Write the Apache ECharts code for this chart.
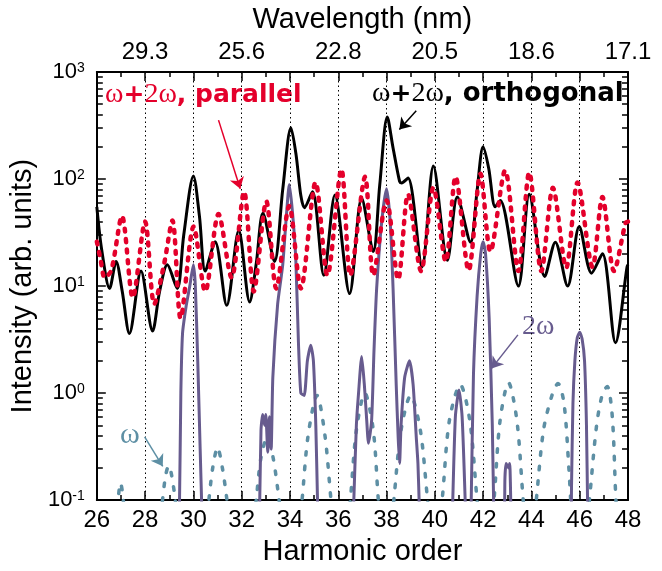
<!DOCTYPE html>
<html>
<head>
<meta charset="utf-8">
<title>Harmonic spectra</title>
<script src="https://cdn.jsdelivr.net/npm/echarts@6.0.0/dist/echarts.min.js"></script>
<style>
  html, body { margin: 0; padding: 0; background: #fff; }
  #chart { width: 662px; height: 571px; }
</style>
</head>
<body>
<div id="chart"></div>
<script>
var chartDom = document.getElementById('chart');
var myChart = echarts.init(chartDom);

const colors = {
  ortho: '#000000',
  parallel: '#e4002b',
  twoOmega: '#675b8e',
  omega: '#5d8fa4'
};

// [harmonic order, intensity]
const omega = [
  [26.0, 0.01], [26.75, 0.05], [26.88, 0.1], [26.98, 0.145], [27.08, 0.11], [27.2, 0.05], [27.8, 0.01],
  [28.55, 0.05], [28.72, 0.1], [28.85, 0.17], [28.98, 0.21], [29.1, 0.17], [29.25, 0.1], [29.4, 0.05], [29.9, 0.01],
  [30.5, 0.05], [30.64, 0.1], [30.8, 0.2], [31.0, 0.31], [31.2, 0.2], [31.39, 0.1], [31.55, 0.05], [32.0, 0.01],
  [32.45, 0.05], [32.6, 0.1], [32.8, 0.25], [33.05, 0.38], [33.3, 0.25], [33.55, 0.1], [33.7, 0.05], [34.0, 0.01],
  [34.35, 0.05], [34.5, 0.1], [34.75, 0.4], [35.12, 0.95], [35.45, 0.4], [35.7, 0.1], [35.85, 0.05], [36.1, 0.01],
  [36.35, 0.05], [36.5, 0.1], [36.75, 0.45], [37.1, 1.0], [37.45, 0.45], [37.66, 0.1], [37.8, 0.05], [38.0, 0.01],
  [38.15, 0.05], [38.3, 0.1], [38.6, 0.45], [39.0, 0.95], [39.4, 0.45], [39.7, 0.1], [39.85, 0.05], [40.0, 0.01],
  [40.1, 0.05], [40.3, 0.1], [40.6, 0.55], [41.05, 1.2], [41.45, 0.55], [41.75, 0.1], [41.9, 0.05], [42.1, 0.01],
  [42.3, 0.05], [42.45, 0.1], [42.7, 0.55], [43.05, 1.25], [43.4, 0.55], [43.66, 0.1], [43.8, 0.05], [43.95, 0.01],
  [44.05, 0.05], [44.2, 0.1], [44.5, 0.45], [44.85, 0.95], [45.1, 1.23], [45.35, 0.8], [45.55, 0.2], [45.65, 0.08], [45.9, 0.01],
  [46.25, 0.05], [46.4, 0.1], [46.7, 0.5], [46.95, 1.0], [47.14, 1.15], [47.35, 0.6], [47.5, 0.1], [47.6, 0.05], [48.0, 0.01]
];

const twoOmega = [
  [29.3, 0.01], [29.42, 0.08], [29.48, 1], [29.55, 3.6], [29.7, 6.5], [29.85, 10], [30.0, 15.8], [30.08, 10],
  [30.18, 2], [30.28, 0.3], [30.35, 0.08], [30.45, 0.01],
  [32.6, 0.01], [32.74, 0.08], [32.8, 0.45], [32.87, 0.63], [32.95, 0.5], [33.0, 0.63], [33.08, 0.28], [33.15, 0.6],
  [33.22, 0.3], [33.29, 1.4], [33.49, 6.8], [33.7, 15.8], [33.85, 45], [33.97, 89], [34.1, 50], [34.24, 18],
  [34.35, 3], [34.45, 1], [34.59, 0.95], [34.72, 2], [34.86, 2.8], [34.97, 2], [35.07, 0.5], [35.15, 0.08], [35.25, 0.01],
  [36.5, 0.01], [36.63, 0.08], [36.75, 0.5], [36.84, 1.0], [36.97, 2.2], [37.08, 1.2], [37.18, 0.55], [37.25, 0.34],
  [37.38, 0.55], [37.48, 2.5], [37.59, 9.5], [37.8, 40], [38.0, 81], [38.15, 40], [38.27, 9.5], [38.4, 1.2],
  [38.48, 0.39], [38.54, 0.22], [38.6, 0.5], [38.75, 1.4], [38.95, 2.0], [39.1, 1.2], [39.23, 0.39], [39.3, 0.22],
  [39.36, 0.08], [39.45, 0.01],
  [40.6, 0.01], [40.73, 0.08], [40.85, 0.6], [41.0, 1.07], [41.13, 0.6], [41.27, 0.08], [41.38, 0.01],
  [41.42, 0.01], [41.5, 0.08], [41.6, 1.5], [41.75, 8], [41.9, 20], [42.0, 26], [42.1, 20], [42.25, 5],
  [42.38, 0.5], [42.45, 0.06], [42.55, 0.01],
  [42.85, 0.01], [42.9, 0.15], [42.95, 0.22], [43.05, 0.2], [43.1, 0.22], [43.15, 0.08], [43.2, 0.01],
  [45.6, 0.01], [45.66, 0.13], [45.72, 0.8], [45.8, 2], [45.9, 3.3], [46.0, 3.7], [46.1, 3.2], [46.2, 2],
  [46.28, 0.5], [46.33, 0.08], [46.4, 0.01]
];

const orthogonal = [
  [26.0, 55], [26.2, 22], [26.53, 9.5], [26.8, 17], [27.05, 9], [27.35, 3.6], [27.83, 13.8], [28.31, 3.8],
  [28.6, 8.9], [28.92, 15.8], [29.33, 9.5], [29.6, 30], [30.0, 107], [30.25, 45], [30.49, 13.8], [30.9, 26],
  [31.38, 6.6], [31.88, 33], [32.33, 7.1], [32.6, 16], [32.88, 48], [33.36, 17], [33.7, 80], [34.04, 302],
  [34.25, 170], [34.45, 70], [34.6, 54], [34.93, 76], [35.4, 12.6], [35.86, 71], [36.47, 8.5], [36.97, 66],
  [37.45, 21], [37.72, 89], [38.03, 380], [38.27, 195], [38.54, 95], [38.62, 92], [38.89, 102], [39.47, 15.1],
  [39.94, 132], [40.52, 17.4], [40.93, 68], [41.48, 25.7], [41.75, 78], [42.0, 200], [42.23, 126], [42.5, 55],
  [42.71, 63], [43.46, 10], [43.91, 72], [44.55, 12.3], [44.99, 25.7], [45.5, 10], [45.98, 36], [46.49, 13.2],
  [46.94, 20], [47.48, 2.95], [47.96, 15.1], [48.0, 15.8]
];

const parallel = [
  [26.0, 26], [26.15, 18], [26.33, 12], [26.6, 14], [27.04, 45], [27.49, 7.8], [28.0, 40], [28.38, 6.8],
  [28.78, 15.8], [29.13, 41], [29.47, 5], [30.01, 36], [30.49, 8.9], [31.04, 47], [31.58, 12], [32.1, 76],
  [32.5, 8.9], [33.02, 62], [33.43, 9.5], [33.97, 56], [34.45, 9.5], [35.06, 93], [35.55, 12.6], [36.13, 123],
  [36.5, 12.6], [37.11, 105], [37.45, 12.6], [38.0, 63], [38.48, 11.5], [38.89, 72], [39.43, 13.8], [39.94, 83],
  [40.45, 17], [40.86, 105], [41.4, 14], [41.89, 112], [42.3, 21], [42.91, 120], [43.46, 13.8], [43.91, 115],
  [44.41, 13.8], [44.89, 83], [45.44, 14.8], [45.91, 93], [46.53, 15.1], [46.94, 68], [47.42, 13.8], [47.9, 39],
  [48.0, 40]
];

// top axis: wavelength (nm) = 820 / harmonic order
const wavelengthOrders = [28, 32, 36, 40, 44, 48];
const wavelengthLabels = ['29.3', '25.6', '22.8', '20.5', '18.6', '17.1'];

// minor log ticks (2..9 per decade), given as log10 values for a linear overlay axis
const minorLogTicks = [];
[-1, 0, 1, 2].forEach(function (d) {
  for (var k = 2; k <= 9; k++) minorLogTicks.push(d + Math.log10(k));
});

const sans = 'Liberation Sans, Arial, sans-serif';
const serif = 'Liberation Serif, Times New Roman, serif';
const frame = { show: true, onZero: false, lineStyle: { color: '#000', width: 2 } };
const tickStyle = { color: '#000', width: 1.5 };

function xAxisDef(pos) {
  return {
    type: 'value', position: pos, min: 26, max: 48, interval: 2,
    axisLine: frame,
    axisTick: { inside: true, length: 9, lineStyle: tickStyle },
    minorTick: { show: true, splitNumber: 2, length: 5, lineStyle: tickStyle },
    splitLine: { show: false }
  };
}

function majorY(pos, labels) {
  return {
    type: 'log', logBase: 10, min: 0.1, max: 1000, position: pos,
    axisLine: frame,
    axisTick: { inside: true, length: 9, lineStyle: tickStyle },
    axisLabel: labels ? {
      margin: 12, color: '#000', fontFamily: sans,
      formatter: function (v) {
        return '{b|10}{s|' + Math.round(Math.log10(v)) + '}';
      },
      rich: {
        b: { fontSize: 22, fontFamily: sans, color: '#000' },
        s: { fontSize: 14, fontFamily: sans, color: '#000', verticalAlign: 'top' }
      }
    } : { show: false },
    splitLine: { show: false }
  };
}

function minorY(pos) {
  return {
    type: 'value', min: -1, max: 3, position: pos,
    axisLine: { show: false, onZero: false },
    axisTick: { show: true, inside: true, length: 6, lineStyle: tickStyle, customValues: minorLogTicks },
    axisLabel: { show: false },
    splitLine: { show: false }
  };
}

function arrow(color, from, to) {
  return {
    silent: true, symbol: ['none', 'arrow'], symbolSize: 11, animation: false,
    label: { show: false },
    lineStyle: { color: color, width: 1.5, type: 'solid' },
    data: [[{ coord: from }, { coord: to }]]
  };
}

const bottomX = xAxisDef('bottom');
bottomX.axisLabel = { fontSize: 24, color: '#000', margin: 8, fontFamily: sans, showMinLabel: true, showMaxLabel: true };
bottomX.splitLine = { show: true, lineStyle: { color: '#000', width: 1, type: [1.5, 3] } };
bottomX.name = 'Harmonic order';
bottomX.nameLocation = 'middle';
bottomX.nameGap = 33;
bottomX.nameTextStyle = { fontSize: 29, color: '#000', fontFamily: sans };

const topX = xAxisDef('top');
topX.axisLabel = {
  fontSize: 24, color: '#000', margin: 8, fontFamily: sans, showMinLabel: true, showMaxLabel: true,
  formatter: function (v) {
    var i = wavelengthOrders.indexOf(v);
    return i < 0 ? '' : wavelengthLabels[i];
  }
};
topX.name = 'Wavelength (nm)';
topX.nameLocation = 'middle';
topX.nameGap = 38;
topX.nameTextStyle = { fontSize: 29, color: '#000', fontFamily: sans };

const leftY = majorY('left', true);
leftY.name = 'Intensity (arb. units)';
leftY.nameLocation = 'middle';
leftY.nameGap = 28;
leftY.nameTextStyle = { fontSize: 29, color: '#000', fontFamily: sans };

option = {
  animation: false,
  backgroundColor: '#fff',
  grid: { left: 92, top: 68, width: 536, height: 440 },
  xAxis: [bottomX, topX],
  yAxis: [leftY, minorY('left'), majorY('right', false), minorY('right')],
  series: [
    {
      name: 'ω', type: 'line', data: omega, symbol: 'none', smooth: 0.3, clip: true, z: 2,
      lineStyle: { color: colors.omega, width: 3.5, type: [3.5, 11], cap: 'round' },
      markLine: arrow(colors.omega, [27.98, 0.39], [28.73, 0.207])
    },
    {
      name: '2ω', type: 'line', data: twoOmega, symbol: 'none', smooth: 0.2, clip: true, z: 3,
      lineStyle: { color: colors.twoOmega, width: 3 },
      markLine: arrow(colors.twoOmega, [43.44, 3.5], [42.35, 1.7])
    },
    {
      name: 'ω+2ω, orthogonal', type: 'line', data: orthogonal, symbol: 'none', smooth: 0.3, clip: true, z: 4,
      lineStyle: { color: colors.ortho, width: 3 },
      markLine: arrow(colors.ortho, [39.23, 435], [38.53, 290])
    },
    {
      name: 'ω+2ω, parallel', type: 'line', data: parallel, symbol: 'none', smooth: 0.3, clip: true, z: 5,
      lineStyle: { color: colors.parallel, width: 4.5, type: [3, 7.5], cap: 'round' },
      markLine: arrow(colors.parallel, [31.04, 355], [31.94, 81])
    }
  ],
  graphic: [
    {
      type: 'text', x: 105, y: 95, silent: true,
      style: {
        text: '{w|ω}{p|+}{w|2ω}{t|, parallel}', verticalAlign: 'middle',
        rich: {
          w: { fontFamily: serif, fontSize: 28, fill: colors.parallel },
          p: { fontFamily: 'DejaVu Sans', fontWeight: 'bold', fontSize: 25, fill: colors.parallel },
          t: { fontFamily: 'DejaVu Sans', fontWeight: 'bold', fontSize: 25, fill: colors.parallel }
        }
      }
    },
    {
      type: 'text', x: 372, y: 94, silent: true,
      style: {
        text: '{w|ω}{p|+}{w|2ω}{t|, orthogonal}', verticalAlign: 'middle',
        rich: {
          w: { fontFamily: serif, fontSize: 28, fill: colors.ortho },
          p: { fontFamily: 'DejaVu Sans', fontWeight: 'bold', fontSize: 25, fill: colors.ortho },
          t: { fontFamily: 'DejaVu Sans', fontWeight: 'bold', fontSize: 26, fill: colors.ortho }
        }
      }
    },
    {
      type: 'text', x: 522, y: 327, silent: true,
      style: { text: '2ω', fontFamily: serif, fontSize: 28, fill: colors.twoOmega, verticalAlign: 'middle' }
    },
    {
      type: 'text', x: 120, y: 435, silent: true,
      style: { text: 'ω', fontFamily: serif, fontSize: 30, fill: colors.omega, verticalAlign: 'middle' }
    }
  ]
};

option && myChart.setOption(option);

window.addEventListener('resize', function () {
  myChart.resize();
});
</script>
</body>
</html>
